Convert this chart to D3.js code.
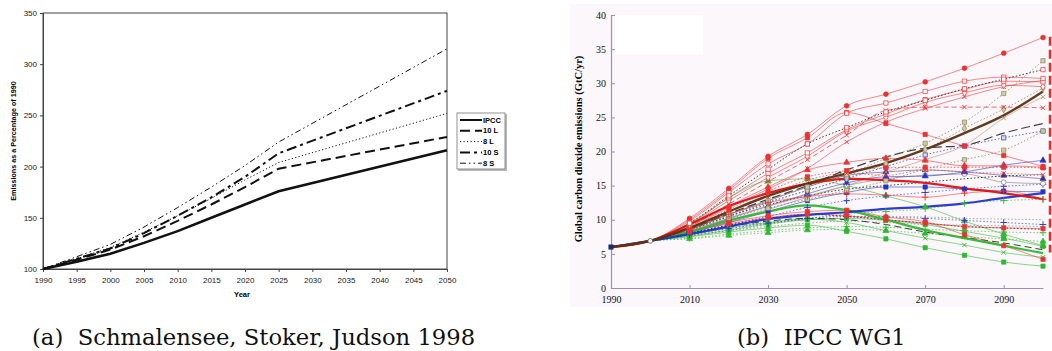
<!DOCTYPE html>
<html>
<head>
<meta charset="utf-8">
<title>emissions scenarios</title>
<style>
  body { margin: 0; background: #fff; }
  svg { display: block; }
</style>
</head>
<body>
<script src="https://d3js.org/d3.v7.min.js"></script>
<script>
  var width = 1052;
  var height = 351;

  // ---------- panel (a): emissions as % of 1990 ----------
  var yearsA = [1990, 1995, 2000, 2005, 2010, 2015, 2020, 2025, 2050];
  var ipcc   = [100, 107, 115, 125.5, 137, 150, 163, 176, 216];
  var tenL   = [100, 109, 119, 132, 147, 163, 180, 198, 229];
  var eightL = [100, 110, 121, 136, 152, 169, 187, 204, 252];
  var tenS   = [100, 110, 120, 135, 152, 170, 190, 213, 274];
  var eightS = [100, 112, 124, 141, 160, 180, 201, 224, 315];
  var legendA = ['IPCC', '10 L', '8 L', '10 S', '8 S'];
  var xTicksA = [1990, 1995, 2000, 2005, 2010, 2015, 2020, 2025, 2030, 2035, 2040, 2045, 2050];
  var yTicksA = [100, 150, 200, 250, 300, 350];

  // ---------- panel (b): global CO2 emissions, GtC/yr ----------
  var yearsB = [1990, 2000, 2010, 2020, 2030, 2040, 2050, 2060, 2070, 2080, 2090, 2100];
  var xTicksB = [1990, 2010, 2030, 2050, 2070, 2090];
  var yTicksB = [0, 5, 10, 15, 20, 25, 30, 35, 40];

  var redCircles   = [6.0, 6.9, 10.2, 14.6, 19.3, 22.5, 26.7, 28.4, 30.2, 32.2, 34.4, 36.7];
  var redOpenSqA   = [6.0, 6.9, 9.8, 14.0, 18.2, 21.1, 25.6, 27.1, 28.8, 30.3, 30.9, 30.7];
  var redOpenSqB   = [6.0, 6.9, 9.5, 13.2, 16.8, 19.8, 23.2, 25.5, 27.6, 29.1, 30.3, 30.2];
  var redDiamonds  = [6.0, 6.9, 9.3, 12.8, 16.2, 19.3, 23.0, 25.0, 27.2, 28.6, 29.7, 29.5];
  var redSqDecline = [6.0, 6.9, 10.0, 14.3, 19.0, 22.0, 25.7, 24.1, 22.5, 20.8, 19.4, 17.8];
  var redDashX     = [6.0, 6.9, 9.0, 12.3, 15.6, 18.8, 22.4, 26.0, 26.5, 26.5, 26.5, 26.4];
  var redRiseX     = [6.0, 6.9, 8.8, 11.8, 14.5, 17.5, 21.4, 24.3, 26.3, 28.0, 29.5, 30.4];
  var redTriangles = [6.0, 6.9, 9.0, 12.0, 14.8, 17.3, 18.4, 19.0, 18.7, 17.9, 17.9, 17.7];
  var redSqDotted  = [6.0, 6.9, 8.8, 11.5, 14.2, 16.3, 17.2, 17.6, 17.7, 17.7, 17.7, 17.6];
  var redThinMid   = [6.0, 6.9, 8.7, 11.3, 13.6, 15.8, 16.8, 16.5, 17.3, 17.0, 16.8, 16.6];
  var redThick     = [6.0, 6.9, 9.3, 12.0, 13.9, 15.3, 16.0, 15.8, 15.4, 14.6, 13.9, 13.0];
  var redLowDecl   = [6.0, 6.9, 8.3, 9.6, 10.6, 11.2, 11.4, 10.4, 9.7, 7.8, 6.2, 4.2];
  var redLowFlat   = [6.0, 6.9, 8.2, 9.4, 10.3, 10.8, 10.6, 10.0, 9.5, 9.0, 8.8, 8.7];
  var redPlus      = [6.0, 6.9, 8.6, 10.8, 12.5, 13.4, 13.8, 13.6, 13.3, 13.9, 14.2, 13.0];

  var oliveSqHigh  = [6.0, 6.9, 8.6, 10.8, 12.8, 14.8, 16.6, 19.0, 21.2, 24.3, 28.5, 33.3];
  var oliveDiam    = [6.0, 6.9, 8.5, 10.6, 12.6, 14.3, 16.1, 18.2, 20.3, 23.4, 26.2, 29.3];
  var tanSolid     = [6.0, 6.9, 8.4, 10.3, 12.0, 13.5, 15.0, 17.0, 18.8, 20.9, 24.9, 28.0];
  var oliveSqLow   = [6.0, 6.9, 8.3, 10.1, 11.7, 13.0, 14.3, 15.7, 17.4, 18.8, 20.2, 23.0];
  var brownThick   = [6.0, 6.9, 8.8, 11.2, 13.5, 15.3, 16.8, 18.3, 20.3, 22.7, 25.3, 28.8];

  var blackDotSq   = [6.0, 6.9, 9.5, 13.5, 17.4, 21.1, 23.5, 25.8, 27.5, 29.2, 30.6, 32.0];
  var blackDash    = [6.0, 6.9, 8.6, 10.9, 13.0, 15.0, 17.3, 19.2, 20.5, 20.9, 22.7, 24.1];
  var blackDotMid  = [6.0, 6.9, 8.5, 10.5, 12.2, 13.5, 14.5, 15.0, 15.5, 16.0, 16.4, 16.6];
  var blackDotLow  = [6.0, 6.9, 8.0, 9.2, 10.2, 10.8, 10.5, 10.0, 9.5, 9.0, 8.8, 8.6];
  var blackDashLow = [6.0, 6.9, 7.9, 9.0, 9.8, 10.2, 10.0, 9.3, 8.2, 7.4, 6.6, 5.6];
  var greyDotA     = [6.0, 6.9, 8.1, 9.0, 9.6, 10.0, 10.3, 10.5, 10.4, 10.2, 10.1, 10.0];
  var greyDotB     = [6.0, 6.9, 7.7, 8.4, 9.0, 9.5, 9.8, 9.6, 9.3, 9.2, 9.1, 9.0];

  var blueDotSq    = [6.0, 6.9, 8.4, 10.5, 12.5, 14.3, 16.0, 17.8, 19.5, 20.8, 22.0, 23.0];
  var blueTri      = [6.0, 6.9, 8.3, 10.2, 12.0, 13.8, 15.4, 16.3, 16.4, 17.0, 18.0, 18.7];
  var blueSqFilled = [6.0, 6.9, 8.1, 9.6, 11.2, 12.8, 14.0, 14.8, 14.8, 14.5, 14.2, 14.1];
  var greyCircles  = [6.0, 6.9, 8.2, 9.8, 11.5, 13.3, 15.0, 16.0, 16.5, 16.7, 15.5, 15.3];
  var blueThick    = [6.0, 6.9, 7.9, 9.0, 10.1, 10.7, 11.1, 11.6, 11.9, 12.4, 13.2, 13.9];
  var blueDotPlus  = [6.0, 6.9, 8.0, 9.3, 10.5, 11.8, 12.8, 13.5, 14.0, 14.5, 14.9, 15.2];
  var blueDotLow   = [6.0, 6.9, 7.8, 8.7, 9.5, 10.2, 10.5, 10.4, 10.2, 9.9, 9.6, 9.3];
  var navyTri      = [6.0, 6.9, 8.5, 10.8, 12.8, 14.8, 16.5, 17.0, 17.3, 17.0, 16.5, 16.0];

  var greenThick   = [6.0, 6.9, 8.2, 9.9, 11.2, 12.1, 11.4, 10.0, 8.5, 7.3, 6.2, 5.1];
  var greenSqLow   = [6.0, 6.9, 7.5, 8.2, 8.8, 9.2, 8.3, 7.2, 5.9, 4.8, 3.8, 3.2];
  var greenX       = [6.0, 6.9, 7.8, 8.8, 9.6, 10.1, 9.6, 8.4, 7.3, 6.3, 5.2, 4.5];
  var greenTri     = [6.0, 6.9, 9.3, 13.2, 15.7, 16.0, 15.0, 13.5, 11.9, 9.8, 7.9, 6.2];
  var greenSqMid   = [6.0, 6.9, 7.6, 8.5, 9.4, 10.0, 10.2, 9.9, 9.3, 8.3, 7.3, 6.1];
  var greenDotHigh = [6.0, 6.9, 7.6, 8.4, 9.3, 10.2, 10.8, 11.2, 11.6, 12.4, 12.8, 13.0];
  var greenDotPlus = [6.0, 6.9, 7.3, 7.9, 8.4, 8.8, 9.0, 8.9, 8.6, 8.4, 8.2, 8.1];
  var greenDotTri  = [6.0, 6.9, 7.2, 7.7, 8.1, 8.5, 8.6, 8.4, 8.0, 7.5, 7.2, 6.8];

  var RED = '#ee3030', GREEN = '#2eb82e', BLUE = '#2233c8', OLIVE = '#8c8a56';
  var DOT = '1.5,2', DASH = '7,4';

  // style table built from the named arrays above
  var wg1 = [
    {v: greyDotA, c: '#777', w: 0.8, d: DOT},
    {v: greyDotB, c: '#777', w: 0.8, d: DOT},
    {v: greenDotTri, c: GREEN, w: 0.8, d: DOT, m: 'tri', f: GREEN},
    {v: greenDotPlus, c: GREEN, w: 0.8, d: DOT, m: 'plus'},
    {v: greenDotHigh, c: GREEN, w: 0.8, d: DOT, m: 'plus'},
    {v: greenSqMid, c: GREEN, w: 0.7, m: 'sq', f: GREEN},
    {v: greenTri, c: GREEN, w: 0.7, m: 'tri', f: GREEN},
    {v: greenX, c: GREEN, w: 0.7, m: 'x'},
    {v: greenSqLow, c: GREEN, w: 0.7, m: 'sq', f: GREEN},
    {v: blueDotLow, c: BLUE, w: 0.8, d: DOT, m: 'plus'},
    {v: blueDotPlus, c: BLUE, w: 0.8, d: DOT, m: 'plus'},
    {v: navyTri, c: '#4b3a8a', w: 0.7, m: 'tri', f: '#3a2a9a'},
    {v: greyCircles, c: '#777', w: 0.7, m: 'circ', f: '#fff'},
    {v: blueSqFilled, c: BLUE, w: 0.7, m: 'sq', f: BLUE},
    {v: blueTri, c: BLUE, w: 0.7, m: 'tri', f: BLUE},
    {v: blueDotSq, c: BLUE, w: 0.9, d: DOT, m: 'sq', f: '#dde'},
    {v: blackDashLow, c: '#111', w: 1, d: DASH},
    {v: blackDotLow, c: '#111', w: 1, d: DOT},
    {v: blackDotMid, c: '#111', w: 1, d: DOT},
    {v: blackDash, c: '#111', w: 1.2, d: '9,4'},
    {v: oliveSqLow, c: OLIVE, w: 1, d: DOT, m: 'sq', f: '#cfcca8'},
    {v: tanSolid, c: '#b99b72', w: 0.8, m: 'x'},
    {v: oliveDiam, c: OLIVE, w: 1, d: DOT, m: 'dia', f: '#cfcca8'},
    {v: oliveSqHigh, c: OLIVE, w: 1, d: DOT, m: 'sq', f: '#cfcca8'},
    {v: redPlus, c: RED, w: 0.7, m: 'plus'},
    {v: redLowFlat, c: RED, w: 0.7, m: 'sq', f: RED},
    {v: redLowDecl, c: RED, w: 0.7, m: 'sq', f: RED},
    {v: redThinMid, c: RED, w: 0.8, d: DOT, m: 'x'},
    {v: redSqDotted, c: RED, w: 0.9, d: DOT, m: 'sq', f: RED},
    {v: redTriangles, c: RED, w: 0.7, m: 'tri', f: RED},
    {v: redRiseX, c: RED, w: 0.7, m: 'x'},
    {v: redDashX, c: RED, w: 0.9, d: '5,3', m: 'x'},
    {v: redSqDecline, c: RED, w: 0.7, m: 'sq', f: RED},
    {v: redDiamonds, c: RED, w: 0.7, m: 'dia', f: '#fff'},
    {v: redOpenSqB, c: RED, w: 0.7, m: 'sq', f: '#fff'},
    {v: redOpenSqA, c: RED, w: 0.7, m: 'sq', f: '#fff'},
    {v: blackDotSq, c: '#111', w: 1, d: DOT, m: 'sq', f: '#fff', mc: RED},
    {v: redCircles, c: RED, w: 0.7, m: 'circ', f: RED},
    {v: greenThick, c: GREEN, w: 2.2},
    {v: blueThick, c: BLUE, w: 2.2},
    {v: redThick, c: '#e01010', w: 2.2},
    {v: brownThick, c: '#5a3212', w: 2.4}
  ];

  var SANS = "'Liberation Sans', Arial, sans-serif";
  var SERIF = "'Liberation Serif', 'Times New Roman', serif";

  var svg = d3.select('body').append('svg')
    .attr('width', width)
    .attr('height', height);

  // ================= panel (a) =================
  var xA = d3.scaleLinear().domain([1990, 2050]).range([43, 447]);
  var yA = d3.scaleLinear().domain([100, 350]).range([269, 13]);

  var gA = svg.append('g');

  gA.append('rect')
    .attr('x', 43).attr('y', 13)
    .attr('width', 404).attr('height', 256)
    .attr('fill', '#fff')
    .attr('stroke', '#444')
    .attr('stroke-width', 1);

  var axisA_y = gA.append('g')
    .attr('transform', 'translate(43,0)')
    .call(d3.axisLeft(yA).tickValues(yTicksA).tickSize(3).tickPadding(3));
  var axisA_x = gA.append('g')
    .attr('transform', 'translate(0,269)')
    .call(d3.axisBottom(xA).tickValues(xTicksA).tickFormat(d3.format('d')).tickSize(3).tickPadding(5));
  [axisA_y, axisA_x].forEach(function(a) {
    a.select('.domain').attr('stroke', '#444');
    a.selectAll('line').attr('stroke', '#444');
    a.selectAll('text')
      .attr('font-family', SANS)
      .attr('font-size', 8)
      .attr('fill', '#222');
  });

  gA.append('text')
    .attr('x', 242).attr('y', 297)
    .attr('text-anchor', 'middle')
    .attr('font-family', SANS)
    .attr('font-weight', 'bold')
    .attr('font-size', 7.5)
    .text('Year');

  gA.append('text')
    .attr('transform', 'translate(16,141) rotate(-90)')
    .attr('text-anchor', 'middle')
    .attr('font-family', SANS)
    .attr('font-weight', 'bold')
    .attr('font-size', 7.2)
    .text('Emissions as a Percentage of 1990');

  var seriesA = [
    {v: ipcc, w: 2.6, d: null},
    {v: tenL, w: 2, d: '10,5'},
    {v: eightL, w: 1, d: '1.2,2.3'},
    {v: tenS, w: 2, d: '10,4,3,4'},
    {v: eightS, w: 1, d: '6,3,1.5,3,1.5,3'}
  ];

  var lineA = d3.line()
    .x(function(d, i) { return xA(yearsA[i]); })
    .y(function(d) { return yA(d); });

  gA.selectAll('path.sa')
    .data(seriesA)
    .enter().append('path')
      .attr('class', 'sa')
      .attr('d', function(s) { return lineA(s.v); })
      .attr('fill', 'none')
      .attr('stroke', '#111')
      .attr('stroke-width', function(s) { return s.w; })
      .attr('stroke-dasharray', function(s) { return s.d; });

  // legend
  var leg = gA.append('g');
  leg.append('rect')
    .attr('x', 458).attr('y', 114).attr('width', 49).attr('height', 57)
    .attr('fill', '#bbb');
  leg.append('rect')
    .attr('x', 457).attr('y', 113).attr('width', 48).attr('height', 56)
    .attr('fill', '#fff').attr('stroke', '#777').attr('stroke-width', 0.8);
  var legRows = leg.selectAll('g.row')
    .data(seriesA)
    .enter().append('g')
      .attr('class', 'row')
      .attr('transform', function(d, i) { return 'translate(0,' + (120 + i * 10.8) + ')'; });
  legRows.append('line')
    .attr('x1', 460).attr('x2', 482)
    .attr('stroke', '#111')
    .attr('stroke-width', function(s) { return Math.min(s.w, 2); })
    .attr('stroke-dasharray', function(s) { return s.d; });
  legRows.append('text')
    .attr('x', 483).attr('y', 2.5)
    .attr('font-family', SANS)
    .attr('font-weight', 'bold')
    .attr('font-size', 7.5)
    .text(function(d, i) { return legendA[i]; });

  // ================= panel (b) =================
  var xB = d3.scaleLinear().domain([1990, 2100]).range([611, 1043]);
  var yB = d3.scaleLinear().domain([0, 40]).range([288, 15]);

  var gB = svg.append('g');

  gB.append('rect')
    .attr('x', 570).attr('y', 4).attr('width', 482).attr('height', 303)
    .attr('fill', '#fcf7fb');
  // blank patch where the legend was removed
  gB.append('rect')
    .attr('x', 615).attr('y', 15).attr('width', 88).attr('height', 39)
    .attr('fill', '#fff');

  var AX = '#a08cb8';
  var axisB_y = gB.append('g')
    .attr('transform', 'translate(611,0)')
    .call(d3.axisLeft(yB).tickValues(yTicksB).tickSizeInner(-4).tickSizeOuter(0).tickPadding(5));
  var axisB_x = gB.append('g')
    .attr('transform', 'translate(0,288)')
    .call(d3.axisBottom(xB).tickValues(xTicksB).tickFormat(d3.format('d')).tickSizeInner(-3).tickSizeOuter(0).tickPadding(8));
  [axisB_y, axisB_x].forEach(function(a) {
    a.select('.domain').attr('stroke', AX).attr('stroke-width', 1.2);
    a.selectAll('line').attr('stroke', AX);
    a.selectAll('text')
      .attr('font-family', SERIF)
      .attr('font-size', 10)
      .attr('fill', '#111');
  });

  gB.append('text')
    .attr('transform', 'translate(582,149) rotate(-90)')
    .attr('text-anchor', 'middle')
    .attr('font-family', SERIF)
    .attr('font-weight', 'bold')
    .attr('font-size', 10.5)
    .text('Global carbon dioxide emissions (GtC/yr)');

  var lineB = d3.line()
    .x(function(d, i) { return xB(yearsB[i]); })
    .y(function(d) { return yB(d); })
    .curve(d3.curveMonotoneX);

  gB.selectAll('path.sb')
    .data(wg1)
    .enter().append('path')
      .attr('class', 'sb')
      .attr('d', function(s) { return lineB(s.v); })
      .attr('fill', 'none')
      .attr('stroke', function(s) { return s.c; })
      .attr('stroke-width', function(s) { return s.w; })
      .attr('stroke-dasharray', function(s) { return s.d || null; })
      .attr('opacity', function(s) { return s.w > 2 ? 0.95 : 0.8; });

  var symbolTypes = {
    sq: d3.symbolSquare, circ: d3.symbolCircle, tri: d3.symbolTriangle,
    dia: d3.symbolDiamond, x: d3.symbolTimes, plus: d3.symbolPlus
  };
  var symbolSize = {sq: 18, circ: 18, tri: 16, dia: 16, x: 14, plus: 16};

  wg1.forEach(function(s) {
    if (!s.m) return;
    var pts = s.v.map(function(d, i) { return {year: yearsB[i], val: d}; }).slice(2);
    var stroked = (s.m === 'x' || s.m === 'plus');
    gB.append('g').selectAll('path')
      .data(pts)
      .enter().append('path')
        .attr('transform', function(p) { return 'translate(' + xB(p.year) + ',' + yB(p.val) + ')'; })
        .attr('d', d3.symbol().type(symbolTypes[s.m]).size(symbolSize[s.m]))
        .attr('fill', stroked ? 'none' : s.f)
        .attr('stroke', s.mc || s.c)
        .attr('stroke-width', stroked ? 0.9 : 0.7);
  });

  // shared start points 1990 and 2000
  gB.append('path')
    .attr('transform', 'translate(' + xB(yearsB[0]) + ',' + yB(redCircles[0]) + ')')
    .attr('d', d3.symbol().type(d3.symbolSquare).size(26))
    .attr('fill', '#1a2a6a');
  gB.append('path')
    .attr('transform', 'translate(' + xB(yearsB[1]) + ',' + yB(redCircles[1]) + ')')
    .attr('d', d3.symbol().type(d3.symbolCircle).size(18))
    .attr('fill', '#fff').attr('stroke', '#555').attr('stroke-width', 0.8);

  // red dashed marker at the right edge
  gB.append('line')
    .attr('x1', 1050).attr('x2', 1050)
    .attr('y1', yB(36.8)).attr('y2', yB(5.2))
    .attr('stroke', '#e0302a')
    .attr('stroke-width', 2.5)
    .attr('stroke-dasharray', '9,4');

  // ================= captions =================
  svg.append('text')
    .attr('x', 32).attr('y', 345)
    .attr('font-family', "'DejaVu Serif', serif")
    .attr('font-size', 22.7)
    .attr('fill', '#111')
    .style('white-space', 'pre')
    .text('(a)  Schmalensee, Stoker, Judson 1998');
  svg.append('text')
    .attr('x', 737).attr('y', 345)
    .attr('font-family', "'DejaVu Serif', serif")
    .attr('font-size', 22.7)
    .attr('fill', '#111')
    .style('white-space', 'pre')
    .text('(b)  IPCC WG1');
</script>
</body>
</html>
